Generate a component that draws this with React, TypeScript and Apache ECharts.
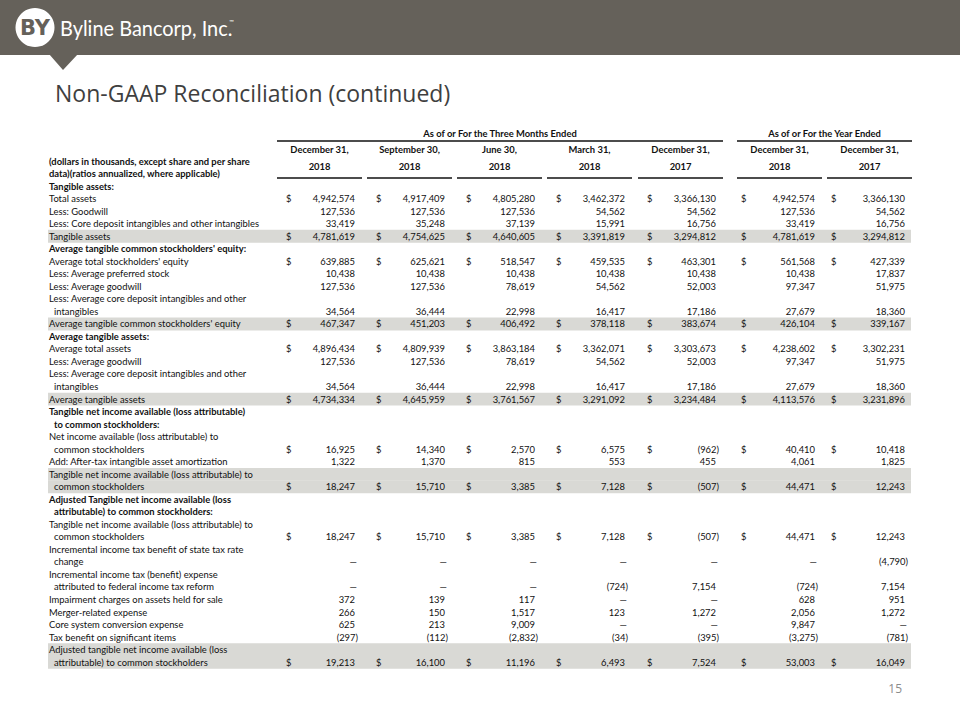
import React, { useEffect, useRef } from "react";
import * as echarts from "echarts";

const groupHeaders = ["As of or For the Three Months Ended", "As of or For the Year Ended"];
const columnHeaders = ["December 31,", "September 30,", "June 30,", "March 31,", "December 31,", "December 31,", "December 31,"];
const columnYears = ["2018", "2018", "2018", "2018", "2017", "2018", "2017"];
const stubHeader = ["(dollars in thousands, except share and per share", "data)(ratios annualized, where applicable)"];

const rowLabels = [
  "Tangible assets:",
  "Total assets",
  "Less: Goodwill",
  "Less: Core deposit intangibles and other intangibles",
  "Tangible assets",
  "Average tangible common stockholders' equity:",
  "Average total stockholders' equity",
  "Less: Average preferred stock",
  "Less: Average goodwill",
  "Less: Average core deposit intangibles and other",
  "  intangibles",
  "Average tangible common stockholders' equity",
  "Average tangible assets:",
  "Average total assets",
  "Less: Average goodwill",
  "Less: Average core deposit intangibles and other",
  "  intangibles",
  "Average tangible assets",
  "Tangible net income available (loss attributable)",
  "  to common stockholders:",
  "Net income available (loss attributable) to",
  "  common stockholders",
  "Add: After-tax intangible asset amortization",
  "Tangible net income available (loss attributable) to",
  "  common stockholders",
  "Adjusted Tangible net income available (loss",
  "  attributable) to common stockholders:",
  "Tangible net income available (loss attributable) to",
  "  common stockholders",
  "Incremental income tax benefit of state tax rate",
  "  change",
  "Incremental income tax (benefit) expense",
  "  attributed to federal income tax reform",
  "Impairment charges on assets held for sale",
  "Merger-related expense",
  "Core system conversion expense",
  "Tax benefit on significant items",
  "Adjusted tangible net income available (loss",
  "  attributable) to common stockholders",
];
const boldRows = [0, 5, 12, 18, 19, 25, 26];
const shadedRows = [4, 11, 17, 23, 24, 37, 38];
const dollarRows = [1, 4, 6, 11, 13, 17, 21, 24, 28, 38];
const valueRows = [1, 2, 3, 4, 6, 7, 8, 10, 11, 13, 14, 16, 17, 21, 22, 24, 28, 30, 32, 33, 34, 35, 36, 38];

// values (0 is shown as a dash)
const dec2018Q = [4942574, 127536, 33419, 4781619, 639885, 10438, 127536, 34564, 467347, 4896434, 127536, 34564, 4734334, 16925, 1322, 18247, 18247, 0, 0, 372, 266, 625, -297, 19213];
const sep2018Q = [4917409, 127536, 35248, 4754625, 625621, 10438, 127536, 36444, 451203, 4809939, 127536, 36444, 4645959, 14340, 1370, 15710, 15710, 0, 0, 139, 150, 213, -112, 16100];
const jun2018Q = [4805280, 127536, 37139, 4640605, 518547, 10438, 78619, 22998, 406492, 3863184, 78619, 22998, 3761567, 2570, 815, 3385, 3385, 0, 0, 117, 1517, 9009, -2832, 11196];
const mar2018Q = [3462372, 54562, 15991, 3391819, 459535, 10438, 54562, 16417, 378118, 3362071, 54562, 16417, 3291092, 6575, 553, 7128, 7128, 0, -724, 0, 123, 0, -34, 6493];
const dec2017Q = [3366130, 54562, 16756, 3294812, 463301, 10438, 52003, 17186, 383674, 3303673, 52003, 17186, 3234484, -962, 455, -507, -507, 0, 7154, 0, 1272, 0, -395, 7524];
const dec2018Y = [4942574, 127536, 33419, 4781619, 561568, 10438, 97347, 27679, 426104, 4238602, 97347, 27679, 4113576, 40410, 4061, 44471, 44471, 0, -724, 628, 2056, 9847, -3275, 53003];
const dec2017Y = [3366130, 54562, 16756, 3294812, 427339, 17837, 51975, 18360, 339167, 3302231, 51975, 18360, 3231896, 10418, 1825, 12243, 12243, -4790, 7154, 951, 1272, 0, -781, 16049];
const columns = [dec2018Q, sep2018Q, jun2018Q, mar2018Q, dec2017Q, dec2018Y, dec2017Y];

const companyName = "Byline Bancorp, Inc.";
const slideTitle = "Non-GAAP Reconciliation (continued)";
const pageNumber = "15";

const fmt = (v: number) =>
  v === 0 ? "\u2014" : v < 0 ? `(${Math.abs(v).toLocaleString("en-US")})` : v.toLocaleString("en-US");

export default function App() {
  const ref = useRef<HTMLDivElement>(null);
  useEffect(() => {
    document.body.style.margin = "0";
    const chart = echarts.init(ref.current!, null, { renderer: "svg" });
    const FONT = "Lato";
    const ink = "#111111";
    const FS = 9.4;
    const rowY0 = 186;
    const rowH = 12.53;
    const rowY = (i: number) => rowY0 + i * rowH;
    const valueRight = [355, 445, 535, 625, 716, 815, 905];
    const els: any[] = [];

    const txt = (text: string, x: number, y: number, o: any = {}) => ({
      type: "text",
      x,
      y,
      scaleX: o.scaleX ?? 1,
      style: {
        text,
        x: 0,
        y: 0,
        fill: o.fill ?? ink,
        fontFamily: o.fontFamily ?? FONT,
        fontSize: o.fontSize ?? FS,
        fontWeight: o.fontWeight ?? "normal",
        align: o.align ?? "left",
        textAlign: o.align ?? "left",
        verticalAlign: "middle",
        textVerticalAlign: "middle",
      },
    });
    const line = (x1: number, y1: number, x2: number, y2: number, lw = 1.3, c = "#111") => ({
      type: "line",
      shape: { x1, y1, x2, y2 },
      style: { stroke: c, lineWidth: lw },
    });

    // header bar
    els.push({ type: "rect", shape: { x: 0, y: 0, width: 960, height: 55 }, style: { fill: "#65615a" } });
    els.push({ type: "polygon", shape: { points: [[49, 54], [78, 54], [63, 70]] }, style: { fill: "#65615a" } });
    els.push({ type: "circle", shape: { cx: 35, cy: 27.5, r: 19.5 }, style: { fill: "#ffffff" } });
    els.push(txt("BY", 35, 28, { align: "center", fontSize: 21, fontWeight: "bold", fill: "#65615a", fontFamily: "DejaVu Sans" }));
    els.push(txt(companyName, 60, 28, { fontSize: 21, fill: "#ffffff", scaleX: 0.95 }));
    els.push(txt("\u2122", 229, 21, { fontSize: 6, fill: "#ffffff" }));

    // title
    els.push(txt(slideTitle, 55, 93, { fontSize: 23, fill: "#3f3f3f", fontFamily: "Open Sans" }));

    // shaded rows
    shadedRows.forEach((r) => {
      els.push({ type: "rect", shape: { x: 48, y: rowY(r) - rowH / 2, width: 863, height: rowH + 0.3 }, style: { fill: "#d9d9d5" } });
    });

    // group headers
    const groups = [
      [valueRight[0] - 78, valueRight[4] + 7],
      [valueRight[5] - 78, valueRight[6] + 7],
    ];
    groups.forEach(([a, b], gi) => {
      els.push(txt(groupHeaders[gi], (a + b) / 2, 133, { align: "center", fontWeight: "bold" }));
      els.push(line(a, 141, b, 141));
    });

    // column headers
    valueRight.forEach((R, ci) => {
      const a = R - 78, b = R + 7;
      els.push(txt(columnHeaders[ci], (a + b) / 2, 149, { align: "center", fontWeight: "bold" }));
      els.push(txt(columnYears[ci], (a + b) / 2, 166, { align: "center", fontWeight: "bold" }));
      els.push(line(a, 178, b, 178));
    });
    els.push(txt(stubHeader[0], 49, 161, { fontWeight: "bold" }));
    els.push(txt(stubHeader[1], 49, 173, { fontWeight: "bold" }));

    // row labels
    rowLabels.forEach((lab, i) => {
      const indent = lab.startsWith("  ");
      els.push(txt(lab.trim(), indent ? 54 : 49, rowY(i), { fontWeight: boldRows.includes(i) ? "bold" : "normal" }));
    });

    // values
    valueRows.forEach((r, k) => {
      columns.forEach((col, ci) => {
        const v = col[k];
        const R = valueRight[ci];
        const shift = v < 0 ? 3 : v === 0 ? 2 : 0;
        els.push(txt(fmt(v), R + shift, rowY(r), { align: "right" }));
        if (dollarRows.includes(r)) {
          els.push(txt("$", R - (ci >= 5 ? 74 : 69), rowY(r)));
        }
      });
    });

    // page number
    els.push(txt(pageNumber, 902, 688, { align: "right", fontSize: 12, fill: "#8c8c8c", fontFamily: "Open Sans" }));

    chart.setOption({ animation: false, graphic: { elements: els } });
    return () => chart.dispose();
  }, []);
  return <div ref={ref} style={{ width: 960, height: 720 }} />;
}
